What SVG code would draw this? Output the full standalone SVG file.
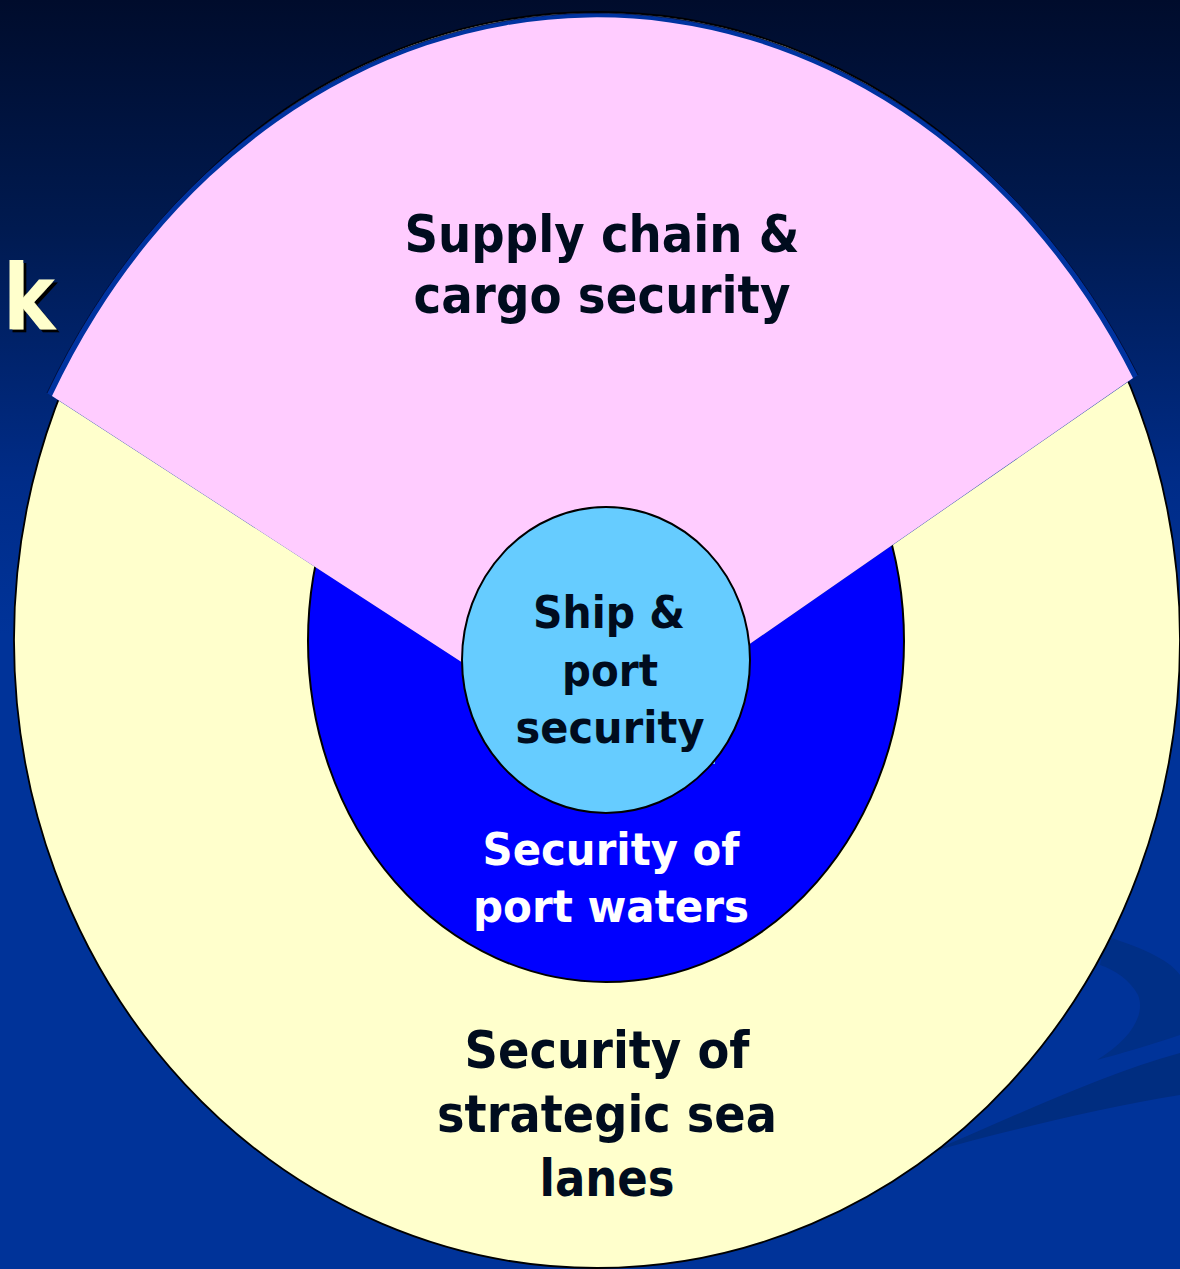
<svg xmlns="http://www.w3.org/2000/svg" width="1180" height="1269" viewBox="0 0 1180 1269">
  <defs>
    <linearGradient id="bg" x1="0" y1="0" x2="0" y2="1269" gradientUnits="userSpaceOnUse">
      <stop offset="0" stop-color="#000c2c"/>
      <stop offset="0.18" stop-color="#001a50"/>
      <stop offset="0.38" stop-color="#002c88"/>
      <stop offset="0.5" stop-color="#003399"/>
      <stop offset="1" stop-color="#003399"/>
    </linearGradient>
    <filter id="shadow" x="-20%" y="-20%" width="150%" height="150%">
      <feOffset in="SourceAlpha" dx="3" dy="3" result="off"/>
      <feFlood flood-color="#000000"/>
      <feComposite in2="off" operator="in" result="sh"/>
      <feMerge>
        <feMergeNode in="sh"/>
        <feMergeNode in="SourceGraphic"/>
      </feMerge>
    </filter>
    <style>
      .dark { font-family: "DejaVu Sans", "Noto Sans", sans-serif; font-weight: bold; fill: #000c1e; text-anchor: middle; }
      .light { font-family: "DejaVu Sans", "Noto Sans", sans-serif; font-weight: bold; fill: #ffffff; text-anchor: middle; }
      .big { font-size: 51px; }
      .mid { font-size: 45px; }
      .title { font-family: "DejaVu Sans", "Noto Sans", sans-serif; font-weight: bold; font-size: 90px; fill: #ffffcc; }
    </style>
  </defs>

  <g id="background">
    <rect x="0" y="0" width="1180" height="1269" fill="url(#bg)"/>
    <path d="M1105 936 C1150 950 1172 963 1180 975 L1180 1035 C1150 1045 1120 1054 1097 1060 C1130 1040 1146 1015 1138 995 C1130 980 1115 970 1100 965 Z" fill="#002f86"/>
    <path d="M930 1152 C1010 1118 1100 1075 1180 1053 L1180 1095 C1100 1108 1010 1130 930 1152 Z" fill="#002d80"/>
  </g>

  <g id="title-fragment">
    <text class="title" x="3" y="329" textLength="52" lengthAdjust="spacingAndGlyphs" filter="url(#shadow)">k</text>
  </g>

  <g id="node-sea-lanes">
    <ellipse cx="597" cy="640" rx="583" ry="628" fill="#ffffcc" stroke="#000000" stroke-width="1.8"/>
  </g>

  <g id="node-port-waters">
    <ellipse cx="606" cy="641" rx="298" ry="341" fill="#0000ff" stroke="#000000" stroke-width="2"/>
  </g>

  <g id="node-supply-chain">
    <path d="M597 750 L47 393 A630 742 0 0 1 1138 375 Z" fill="#0033a0"/>
    <path d="M47 393 A630 742 0 0 1 1138 375" fill="none" stroke="#000a30" stroke-width="0.8"/>
    <path d="M597 750 L52 396 A623 735 0 0 1 1133 378 Z" fill="#ffccff"/>
  </g>

  <g id="node-ship-port">
    <rect x="708" y="755" width="7" height="9" fill="#66ccff"/>
    <ellipse cx="606" cy="660" rx="144" ry="153" fill="#66ccff" stroke="#000000" stroke-width="2"/>
  </g>

  <g id="labels">
    <text class="dark big" x="602" y="252" textLength="395" lengthAdjust="spacingAndGlyphs">Supply chain &amp;</text>
    <text class="dark big" x="602" y="313" textLength="377" lengthAdjust="spacingAndGlyphs">cargo security</text>

    <text class="dark mid" x="609" y="628" textLength="152" lengthAdjust="spacingAndGlyphs">Ship &amp;</text>
    <text class="dark mid" x="610" y="686" textLength="96" lengthAdjust="spacingAndGlyphs">port</text>
    <text class="dark mid" x="610" y="743" textLength="189" lengthAdjust="spacingAndGlyphs">security</text>

    <text class="light mid" x="611" y="865" textLength="257" lengthAdjust="spacingAndGlyphs">Security of</text>
    <text class="light mid" x="611" y="922" textLength="276" lengthAdjust="spacingAndGlyphs">port waters</text>

    <text class="dark big" x="607" y="1068" textLength="285" lengthAdjust="spacingAndGlyphs">Security of</text>
    <text class="dark big" x="607" y="1132" textLength="340" lengthAdjust="spacingAndGlyphs">strategic sea</text>
    <text class="dark big" x="607" y="1196" textLength="135" lengthAdjust="spacingAndGlyphs">lanes</text>
  </g>
</svg>
